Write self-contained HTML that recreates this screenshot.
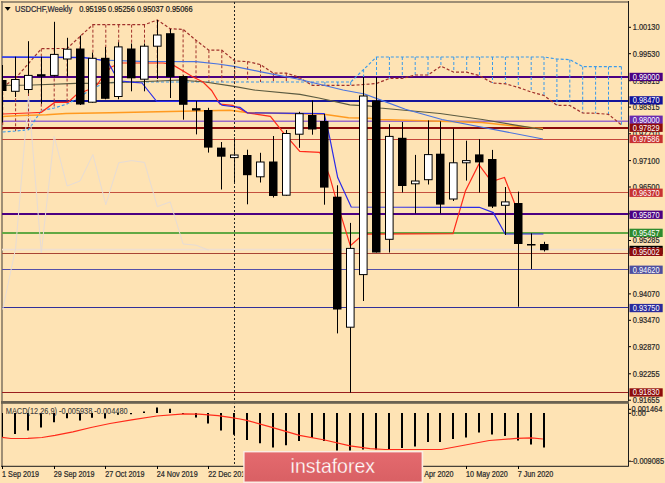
<!DOCTYPE html><html><head><meta charset="utf-8"><style>
html,body{margin:0;padding:0;width:665px;height:483px;overflow:hidden;background:#FEE3B4;}
svg{display:block;position:absolute;left:0;top:0;}
text{font-family:"Liberation Sans",sans-serif;}
</style></head><body>
<svg width="665" height="483" viewBox="0 0 665 483">
<rect x="0" y="0" width="665" height="483" fill="#FEE3B4"/>
<defs><clipPath id="cm"><rect x="2" y="2" width="626" height="399"/></clipPath>
<clipPath id="cd"><rect x="2" y="404" width="626" height="62"/></clipPath></defs>
<line x1="2" y1="1" x2="2" y2="466" stroke="#7E7260" stroke-width="1.5"/>
<line x1="1" y1="2" x2="628.5" y2="2" stroke="#7E7260" stroke-width="1.6"/>
<g clip-path="url(#cm)">
<line x1="2" y1="77.0" x2="628" y2="77.0" stroke="#4B0082" stroke-width="2"/>
<line x1="2" y1="101.0" x2="628" y2="101.0" stroke="#14149A" stroke-width="2"/>
<line x1="2" y1="121.3" x2="628" y2="121.3" stroke="#9A6AC8" stroke-width="1.5"/>
<line x1="2" y1="128.0" x2="628" y2="128.0" stroke="#8B0A0A" stroke-width="2"/>
<line x1="2" y1="139.5" x2="628" y2="139.5" stroke="#C4463A" stroke-width="1"/>
<line x1="2" y1="192.5" x2="628" y2="192.5" stroke="#C4503E" stroke-width="1"/>
<line x1="2" y1="214.0" x2="628" y2="214.0" stroke="#4B0082" stroke-width="2"/>
<line x1="2" y1="233.0" x2="628" y2="233.0" stroke="#62A844" stroke-width="2"/>
<line x1="2" y1="249.6" x2="628" y2="249.6" stroke="#F0DFD0" stroke-width="1.6"/>
<line x1="2" y1="253.5" x2="628" y2="253.5" stroke="#A84434" stroke-width="1"/>
<line x1="2" y1="269.5" x2="628" y2="269.5" stroke="#5550A8" stroke-width="1"/>
<line x1="2" y1="307.5" x2="628" y2="307.5" stroke="#30309A" stroke-width="1"/>
<line x1="2" y1="392.5" x2="628" y2="392.5" stroke="#9A1E1E" stroke-width="1"/>
<line x1="2.7" y1="87.0" x2="2.7" y2="132.0" stroke="#A0302A" stroke-width="1" stroke-dasharray="3,2"/>
<line x1="15.6" y1="78.3" x2="15.6" y2="131.0" stroke="#A0302A" stroke-width="1" stroke-dasharray="3,2"/>
<line x1="28.5" y1="63.5" x2="28.5" y2="129.7" stroke="#A0302A" stroke-width="1" stroke-dasharray="3,2"/>
<line x1="41.3" y1="48.7" x2="41.3" y2="110.6" stroke="#A0302A" stroke-width="1" stroke-dasharray="3,2"/>
<line x1="54.2" y1="48.5" x2="54.2" y2="108.0" stroke="#A0302A" stroke-width="1" stroke-dasharray="3,2"/>
<line x1="67.1" y1="48.5" x2="67.1" y2="104.0" stroke="#A0302A" stroke-width="1" stroke-dasharray="3,2"/>
<line x1="80.0" y1="36.5" x2="80.0" y2="97.0" stroke="#A0302A" stroke-width="1" stroke-dasharray="3,2"/>
<line x1="92.9" y1="24.7" x2="92.9" y2="88.0" stroke="#A0302A" stroke-width="1" stroke-dasharray="3,2"/>
<line x1="105.8" y1="24.7" x2="105.8" y2="83.0" stroke="#A0302A" stroke-width="1" stroke-dasharray="3,2"/>
<line x1="118.7" y1="24.7" x2="118.7" y2="82.0" stroke="#A0302A" stroke-width="1" stroke-dasharray="3,2"/>
<line x1="131.6" y1="24.7" x2="131.6" y2="82.0" stroke="#A0302A" stroke-width="1" stroke-dasharray="3,2"/>
<line x1="144.5" y1="24.7" x2="144.5" y2="82.0" stroke="#A0302A" stroke-width="1" stroke-dasharray="3,2"/>
<line x1="157.3" y1="20.0" x2="157.3" y2="82.0" stroke="#A0302A" stroke-width="1" stroke-dasharray="3,2"/>
<line x1="170.2" y1="28.7" x2="170.2" y2="82.0" stroke="#A0302A" stroke-width="1" stroke-dasharray="3,2"/>
<line x1="183.1" y1="29.4" x2="183.1" y2="82.0" stroke="#A0302A" stroke-width="1" stroke-dasharray="3,2"/>
<line x1="196.0" y1="40.3" x2="196.0" y2="82.0" stroke="#A0302A" stroke-width="1" stroke-dasharray="3,2"/>
<line x1="208.9" y1="50.2" x2="208.9" y2="82.0" stroke="#A0302A" stroke-width="1" stroke-dasharray="3,2"/>
<line x1="221.8" y1="50.2" x2="221.8" y2="82.0" stroke="#A0302A" stroke-width="1" stroke-dasharray="3,2"/>
<line x1="234.7" y1="61.0" x2="234.7" y2="82.0" stroke="#A0302A" stroke-width="1" stroke-dasharray="3,2"/>
<line x1="247.6" y1="61.6" x2="247.6" y2="82.0" stroke="#A0302A" stroke-width="1" stroke-dasharray="3,2"/>
<line x1="260.5" y1="64.6" x2="260.5" y2="82.0" stroke="#A0302A" stroke-width="1" stroke-dasharray="3,2"/>
<line x1="273.4" y1="73.1" x2="273.4" y2="82.0" stroke="#A0302A" stroke-width="1" stroke-dasharray="3,2"/>
<line x1="286.3" y1="73.1" x2="286.3" y2="82.0" stroke="#A0302A" stroke-width="1" stroke-dasharray="3,2"/>
<line x1="299.1" y1="77.3" x2="299.1" y2="82.0" stroke="#A0302A" stroke-width="1" stroke-dasharray="3,2"/>
<line x1="312.0" y1="82.0" x2="312.0" y2="85.4" stroke="#3A9AEA" stroke-width="1" stroke-dasharray="3,2"/>
<line x1="324.9" y1="82.0" x2="324.9" y2="85.4" stroke="#3A9AEA" stroke-width="1" stroke-dasharray="3,2"/>
<line x1="337.8" y1="82.0" x2="337.8" y2="85.4" stroke="#3A9AEA" stroke-width="1" stroke-dasharray="3,2"/>
<line x1="350.7" y1="82.0" x2="350.7" y2="85.4" stroke="#3A9AEA" stroke-width="1" stroke-dasharray="3,2"/>
<line x1="363.6" y1="69.5" x2="363.6" y2="84.5" stroke="#3A9AEA" stroke-width="1" stroke-dasharray="3,2"/>
<line x1="376.5" y1="57.0" x2="376.5" y2="83.5" stroke="#3A9AEA" stroke-width="1" stroke-dasharray="3,2"/>
<line x1="389.4" y1="57.0" x2="389.4" y2="78.4" stroke="#3A9AEA" stroke-width="1" stroke-dasharray="3,2"/>
<line x1="402.3" y1="57.0" x2="402.3" y2="78.4" stroke="#3A9AEA" stroke-width="1" stroke-dasharray="3,2"/>
<line x1="415.2" y1="57.0" x2="415.2" y2="75.0" stroke="#3A9AEA" stroke-width="1" stroke-dasharray="3,2"/>
<line x1="428.0" y1="57.0" x2="428.0" y2="75.0" stroke="#3A9AEA" stroke-width="1" stroke-dasharray="3,2"/>
<line x1="440.9" y1="57.0" x2="440.9" y2="66.2" stroke="#3A9AEA" stroke-width="1" stroke-dasharray="3,2"/>
<line x1="453.8" y1="57.0" x2="453.8" y2="72.2" stroke="#3A9AEA" stroke-width="1" stroke-dasharray="3,2"/>
<line x1="466.7" y1="57.0" x2="466.7" y2="72.2" stroke="#3A9AEA" stroke-width="1" stroke-dasharray="3,2"/>
<line x1="479.6" y1="57.0" x2="479.6" y2="75.7" stroke="#3A9AEA" stroke-width="1" stroke-dasharray="3,2"/>
<line x1="492.5" y1="57.0" x2="492.5" y2="83.0" stroke="#3A9AEA" stroke-width="1" stroke-dasharray="3,2"/>
<line x1="505.4" y1="57.0" x2="505.4" y2="83.8" stroke="#3A9AEA" stroke-width="1" stroke-dasharray="3,2"/>
<line x1="518.3" y1="57.0" x2="518.3" y2="87.4" stroke="#3A9AEA" stroke-width="1" stroke-dasharray="3,2"/>
<line x1="531.2" y1="57.0" x2="531.2" y2="92.0" stroke="#3A9AEA" stroke-width="1" stroke-dasharray="3,2"/>
<line x1="544.0" y1="57.0" x2="544.0" y2="95.5" stroke="#3A9AEA" stroke-width="1" stroke-dasharray="3,2"/>
<line x1="556.9" y1="59.0" x2="556.9" y2="105.3" stroke="#3A9AEA" stroke-width="1" stroke-dasharray="3,2"/>
<line x1="569.8" y1="59.6" x2="569.8" y2="105.5" stroke="#3A9AEA" stroke-width="1" stroke-dasharray="3,2"/>
<line x1="582.7" y1="66.7" x2="582.7" y2="113.0" stroke="#3A9AEA" stroke-width="1" stroke-dasharray="3,2"/>
<line x1="595.6" y1="66.7" x2="595.6" y2="113.3" stroke="#3A9AEA" stroke-width="1" stroke-dasharray="3,2"/>
<line x1="608.5" y1="66.7" x2="608.5" y2="114.3" stroke="#3A9AEA" stroke-width="1" stroke-dasharray="3,2"/>
<line x1="621.4" y1="66.7" x2="621.4" y2="125.0" stroke="#3A9AEA" stroke-width="1" stroke-dasharray="3,2"/>
<polyline points="2.7,132.0 15.6,131.0 28.5,129.7 41.3,110.6 54.2,108.0 67.1,104.0 80.0,97.0 92.9,88.0 105.8,83.0 118.7,82.0 131.6,82.0 144.5,82.0 157.3,82.0 170.2,82.0 183.1,82.0 196.0,82.0 208.9,82.0 221.8,82.0 234.7,82.0 247.6,82.0 260.5,82.0 273.4,82.0 286.3,82.0 299.1,82.0 312.0,82.0 324.9,82.0 337.8,82.0 350.7,82.0 363.6,69.5 376.5,57.0 389.4,57.0 402.3,57.0 415.2,57.0 428.0,57.0 440.9,57.0 453.8,57.0 466.7,57.0 479.6,57.0 492.5,57.0 505.4,57.0 518.3,57.0 531.2,57.0 544.0,57.0 556.9,59.0 569.8,59.6 582.7,66.7 595.6,66.7 608.5,66.7 621.4,66.7" fill="none" stroke="#3A9AEA" stroke-width="1.2" stroke-dasharray="3,2"/>
<polyline points="2.7,87.0 15.6,78.3 28.5,63.5 41.3,48.7 54.2,48.5 67.1,48.5 80.0,36.5 92.9,24.7 105.8,24.7 118.7,24.7 131.6,24.7 144.5,24.7 157.3,20.0 170.2,28.7 183.1,29.4 196.0,40.3 208.9,50.2 221.8,50.2 234.7,61.0 247.6,61.6 260.5,64.6 273.4,73.1 286.3,73.1 299.1,77.3 312.0,85.4 324.9,85.4 337.8,85.4 350.7,85.4 363.6,84.5 376.5,83.5 389.4,78.4 402.3,78.4 415.2,75.0 428.0,75.0 440.9,66.2 453.8,72.2 466.7,72.2 479.6,75.7 492.5,83.0 505.4,83.8 518.3,87.4 531.2,92.0 544.0,95.5 556.9,105.3 569.8,105.5 582.7,113.0 595.6,113.3 608.5,114.3 621.4,125.0" fill="none" stroke="#A0302A" stroke-width="1.2" stroke-dasharray="3,2"/>
<polyline points="2.7,309.5 15.6,248.4 28.5,96.0 41.3,252.5 54.2,136.4 67.1,186.0 80.0,181.0 92.9,154.6 105.8,204.6 118.7,162.8 131.6,160.6 144.5,162.4 157.3,206.6 170.2,201.9 183.1,244.0 196.0,245.2 208.9,250.2" fill="none" stroke="#E6DCD6" stroke-width="1"/>
<polyline points="2.0,116.4 21.5,115.6 46.4,114.8 66.0,113.4 110.0,112.8 230.0,110.2 246.5,112.6 324.0,114.2 348.5,117.7 370.0,118.3 380.0,119.5 482.0,122.6 535.0,127.9 543.0,128.5" fill="none" stroke="#FF9A20" stroke-width="1.5"/>
<polyline points="2.0,85.4 33.0,85.0 76.0,83.3 100.0,83.2 159.0,81.0 180.0,80.0 205.0,82.0 234.0,86.3 254.0,90.0 300.0,94.4 318.8,98.0 349.8,104.8 370.0,106.2 380.0,108.0 440.0,113.5 482.4,119.5 543.0,129.7" fill="none" stroke="#5A5A40" stroke-width="1.2"/>
<polyline points="2.0,56.8 84.0,57.4 100.7,60.0 140.0,61.3 196.0,61.6 218.0,64.0 234.0,66.4 261.0,71.9 300.0,79.5 343.0,90.0 364.6,94.0 383.0,100.9 405.4,109.3 442.0,119.5 543.0,139.0" fill="none" stroke="#4A74E0" stroke-width="1.2"/>
<polyline points="2.5,114.0 28.0,113.0 41.3,112.3 54.6,102.4 68.0,102.4 76.0,95.0 87.7,90.0 97.6,84.3 101.7,78.0 111.0,67.2 114.0,65.7 118.0,63.0 163.0,63.0 171.6,64.2 184.0,71.6 192.6,76.8 203.0,82.0 211.6,90.5 220.0,104.2 232.6,105.3 247.5,112.9 270.4,116.4 282.5,131.7 299.8,151.3 319.7,152.3 329.6,176.2 336.4,200.4 350.3,245.7 359.4,237.7 365.0,234.2 453.0,233.6 465.4,191.0 478.7,164.5 491.5,181.5 504.5,177.5 514.5,203.0 518.0,212.0" fill="none" stroke="#FF2A1A" stroke-width="1.2"/>
<polyline points="2.0,57.2 84.0,57.6 100.7,60.0 108.0,62.0 114.0,73.0 121.0,81.0 134.5,82.3 142.0,83.0 156.8,101.5 218.0,101.5 222.0,105.3 240.0,107.4 247.5,112.9 324.2,113.7 329.6,137.1 337.7,177.5 351.2,207.0 479.3,207.3 493.3,212.6 505.2,234.0 543.4,234.0" fill="none" stroke="#2A2AE8" stroke-width="1.2"/>
<line x1="2.5" y1="65.0" x2="2.5" y2="122.5" stroke="#000" stroke-width="1"/>
<rect x="-2" y="80.0" width="8.5" height="11.0" fill="#000"/>
<line x1="15.5" y1="56.7" x2="15.5" y2="97.0" stroke="#000" stroke-width="1"/>
<rect x="11.5" y="79.5" width="7.6" height="11.8" fill="#fff" stroke="#000" stroke-width="1"/>
<line x1="28.5" y1="41.2" x2="28.5" y2="93.6" stroke="#000" stroke-width="1"/>
<rect x="24.5" y="75.4" width="7.6" height="14.1" fill="#fff" stroke="#000" stroke-width="1"/>
<line x1="41.5" y1="56.7" x2="41.5" y2="103.8" stroke="#000" stroke-width="1"/>
<rect x="37" y="74.2" width="8.5" height="2.3" fill="#000"/>
<line x1="54.5" y1="21.8" x2="54.5" y2="76.5" stroke="#000" stroke-width="1"/>
<rect x="50.5" y="54.4" width="7.6" height="21.0" fill="#fff" stroke="#000" stroke-width="1"/>
<line x1="67.5" y1="37.8" x2="67.5" y2="76.5" stroke="#000" stroke-width="1"/>
<rect x="63.5" y="49.2" width="7.6" height="9.8" fill="#fff" stroke="#000" stroke-width="1"/>
<line x1="80.5" y1="35.5" x2="80.5" y2="105.0" stroke="#000" stroke-width="1"/>
<rect x="76" y="48.5" width="8.5" height="56.0" fill="#000"/>
<line x1="92.5" y1="52.6" x2="92.5" y2="102.7" stroke="#000" stroke-width="1"/>
<rect x="88.5" y="58.3" width="7.6" height="43.9" fill="#fff" stroke="#000" stroke-width="1"/>
<line x1="105.5" y1="46.9" x2="105.5" y2="99.3" stroke="#000" stroke-width="1"/>
<rect x="101" y="57.8" width="8.5" height="41.0" fill="#000"/>
<line x1="118.5" y1="42.3" x2="118.5" y2="99.3" stroke="#000" stroke-width="1"/>
<rect x="114.5" y="46.9" width="7.6" height="49.6" fill="#fff" stroke="#000" stroke-width="1"/>
<line x1="131.5" y1="43.5" x2="131.5" y2="91.3" stroke="#000" stroke-width="1"/>
<rect x="127" y="48.5" width="8.5" height="29.8" fill="#000"/>
<line x1="144.5" y1="43.5" x2="144.5" y2="91.3" stroke="#000" stroke-width="1"/>
<rect x="140.5" y="46.2" width="7.6" height="33.0" fill="#fff" stroke="#000" stroke-width="1"/>
<line x1="157.5" y1="20.0" x2="157.5" y2="79.0" stroke="#000" stroke-width="1"/>
<rect x="153.5" y="35.0" width="7.6" height="11.2" fill="#fff" stroke="#000" stroke-width="1"/>
<line x1="170.5" y1="29.0" x2="170.5" y2="98.0" stroke="#000" stroke-width="1"/>
<rect x="166" y="33.2" width="8.5" height="43.8" fill="#000"/>
<line x1="183.5" y1="75.4" x2="183.5" y2="119.7" stroke="#000" stroke-width="1"/>
<rect x="179" y="76.0" width="8.5" height="28.8" fill="#000"/>
<line x1="196.5" y1="101.0" x2="196.5" y2="134.4" stroke="#000" stroke-width="1"/>
<rect x="192" y="108.2" width="8.5" height="2.3" fill="#000"/>
<line x1="208.5" y1="107.8" x2="208.5" y2="152.6" stroke="#000" stroke-width="1"/>
<rect x="204" y="110.0" width="8.5" height="37.6" fill="#000"/>
<line x1="221.5" y1="142.0" x2="221.5" y2="189.5" stroke="#000" stroke-width="1"/>
<rect x="217" y="147.6" width="8.5" height="9.1" fill="#000"/>
<line x1="234.5" y1="137.4" x2="234.5" y2="182.0" stroke="#000" stroke-width="1"/>
<rect x="230.5" y="155.0" width="7.6" height="2.6" fill="#fff" stroke="#000" stroke-width="1"/>
<line x1="247.5" y1="149.7" x2="247.5" y2="204.3" stroke="#000" stroke-width="1"/>
<rect x="243" y="155.0" width="8.5" height="20.2" fill="#000"/>
<line x1="260.5" y1="152.8" x2="260.5" y2="182.5" stroke="#000" stroke-width="1"/>
<rect x="256.5" y="162.0" width="7.6" height="14.8" fill="#fff" stroke="#000" stroke-width="1"/>
<line x1="273.5" y1="136.0" x2="273.5" y2="197.5" stroke="#000" stroke-width="1"/>
<rect x="269" y="161.5" width="8.5" height="34.5" fill="#000"/>
<line x1="286.5" y1="130.0" x2="286.5" y2="195.7" stroke="#000" stroke-width="1"/>
<rect x="282.5" y="133.5" width="7.6" height="61.7" fill="#fff" stroke="#000" stroke-width="1"/>
<line x1="299.5" y1="111.8" x2="299.5" y2="147.8" stroke="#000" stroke-width="1"/>
<rect x="295.5" y="113.7" width="7.6" height="20.5" fill="#fff" stroke="#000" stroke-width="1"/>
<line x1="312.5" y1="100.5" x2="312.5" y2="134.7" stroke="#000" stroke-width="1"/>
<rect x="308" y="115.0" width="8.5" height="14.5" fill="#000"/>
<line x1="324.5" y1="114.0" x2="324.5" y2="204.7" stroke="#000" stroke-width="1"/>
<rect x="320" y="121.0" width="8.5" height="66.6" fill="#000"/>
<line x1="337.5" y1="185.3" x2="337.5" y2="333.4" stroke="#000" stroke-width="1"/>
<rect x="333" y="196.7" width="8.5" height="112.8" fill="#000"/>
<line x1="350.5" y1="222.9" x2="350.5" y2="392.6" stroke="#000" stroke-width="1"/>
<rect x="346.5" y="248.4" width="7.6" height="78.8" fill="#fff" stroke="#000" stroke-width="1"/>
<line x1="363.5" y1="77.0" x2="363.5" y2="301.0" stroke="#000" stroke-width="1"/>
<rect x="359.5" y="96.0" width="7.6" height="178.6" fill="#fff" stroke="#000" stroke-width="1"/>
<line x1="376.5" y1="77.0" x2="376.5" y2="252.5" stroke="#000" stroke-width="1"/>
<rect x="372" y="100.5" width="8.5" height="152.0" fill="#000"/>
<line x1="389.5" y1="124.2" x2="389.5" y2="252.5" stroke="#000" stroke-width="1"/>
<rect x="385.5" y="136.4" width="7.6" height="102.9" fill="#fff" stroke="#000" stroke-width="1"/>
<line x1="402.5" y1="122.0" x2="402.5" y2="192.4" stroke="#000" stroke-width="1"/>
<rect x="398" y="137.8" width="8.5" height="48.2" fill="#000"/>
<line x1="415.5" y1="154.9" x2="415.5" y2="213.4" stroke="#000" stroke-width="1"/>
<rect x="411.5" y="181.0" width="7.6" height="2.8" fill="#fff" stroke="#000" stroke-width="1"/>
<line x1="428.5" y1="120.4" x2="428.5" y2="184.5" stroke="#000" stroke-width="1"/>
<rect x="424.5" y="154.6" width="7.6" height="25.1" fill="#fff" stroke="#000" stroke-width="1"/>
<line x1="440.5" y1="121.4" x2="440.5" y2="213.4" stroke="#000" stroke-width="1"/>
<rect x="436" y="153.7" width="8.5" height="50.9" fill="#000"/>
<line x1="453.5" y1="128.7" x2="453.5" y2="201.0" stroke="#000" stroke-width="1"/>
<rect x="449.5" y="162.8" width="7.6" height="36.2" fill="#fff" stroke="#000" stroke-width="1"/>
<line x1="466.5" y1="140.7" x2="466.5" y2="180.6" stroke="#000" stroke-width="1"/>
<rect x="462.5" y="160.6" width="7.6" height="2.2" fill="#fff" stroke="#000" stroke-width="1"/>
<line x1="479.5" y1="139.2" x2="479.5" y2="192.5" stroke="#000" stroke-width="1"/>
<rect x="475" y="154.4" width="8.5" height="8.0" fill="#000"/>
<line x1="492.5" y1="149.9" x2="492.5" y2="208.0" stroke="#000" stroke-width="1"/>
<rect x="488" y="159.0" width="8.5" height="47.6" fill="#000"/>
<line x1="505.5" y1="187.0" x2="505.5" y2="235.0" stroke="#000" stroke-width="1"/>
<rect x="501.5" y="201.9" width="7.6" height="3.4" fill="#fff" stroke="#000" stroke-width="1"/>
<line x1="518.5" y1="191.6" x2="518.5" y2="306.7" stroke="#000" stroke-width="1"/>
<rect x="514" y="203.0" width="8.5" height="41.0" fill="#000"/>
<line x1="531.5" y1="233.3" x2="531.5" y2="269.0" stroke="#000" stroke-width="1"/>
<rect x="527" y="244.0" width="8.5" height="1.5" fill="#000"/>
<line x1="544.5" y1="241.8" x2="544.5" y2="251.5" stroke="#000" stroke-width="1"/>
<rect x="540" y="244.0" width="8.5" height="6.2" fill="#000"/>
</g>
<line x1="234.5" y1="2" x2="234.5" y2="466" stroke="#222" stroke-width="1" stroke-dasharray="2,2"/>
<g clip-path="url(#cd)">
<line x1="2.0" y1="413.0" x2="2.0" y2="437.0" stroke="#000" stroke-width="2"/>
<line x1="15.0" y1="413.0" x2="15.0" y2="434.0" stroke="#000" stroke-width="2"/>
<line x1="28.0" y1="413.0" x2="28.0" y2="430.5" stroke="#000" stroke-width="2"/>
<line x1="41.0" y1="413.0" x2="41.0" y2="427.4" stroke="#000" stroke-width="2"/>
<line x1="54.0" y1="413.0" x2="54.0" y2="422.3" stroke="#000" stroke-width="2"/>
<line x1="67.0" y1="413.0" x2="67.0" y2="418.3" stroke="#000" stroke-width="2"/>
<line x1="80.0" y1="413.0" x2="80.0" y2="420.5" stroke="#000" stroke-width="2"/>
<line x1="92.0" y1="413.0" x2="92.0" y2="417.8" stroke="#000" stroke-width="2"/>
<line x1="105.0" y1="413.0" x2="105.0" y2="418.5" stroke="#000" stroke-width="2"/>
<line x1="118.0" y1="413.0" x2="118.0" y2="414.7" stroke="#000" stroke-width="2"/>
<line x1="131.0" y1="413.0" x2="131.0" y2="414.3" stroke="#000" stroke-width="2"/>
<line x1="144.0" y1="413.0" x2="144.0" y2="411.6" stroke="#000" stroke-width="2"/>
<line x1="157.0" y1="413.0" x2="157.0" y2="407.4" stroke="#000" stroke-width="2"/>
<line x1="170.0" y1="413.0" x2="170.0" y2="408.8" stroke="#000" stroke-width="2"/>
<line x1="183.0" y1="413.0" x2="183.0" y2="414.0" stroke="#000" stroke-width="2"/>
<line x1="196.0" y1="413.0" x2="196.0" y2="417.5" stroke="#000" stroke-width="2"/>
<line x1="208.0" y1="413.0" x2="208.0" y2="423.6" stroke="#000" stroke-width="2"/>
<line x1="221.0" y1="413.0" x2="221.0" y2="430.5" stroke="#000" stroke-width="2"/>
<line x1="234.0" y1="413.0" x2="234.0" y2="434.7" stroke="#000" stroke-width="2"/>
<line x1="247.0" y1="413.0" x2="247.0" y2="440.0" stroke="#000" stroke-width="2"/>
<line x1="260.0" y1="413.0" x2="260.0" y2="443.2" stroke="#000" stroke-width="2"/>
<line x1="273.0" y1="413.0" x2="273.0" y2="447.4" stroke="#000" stroke-width="2"/>
<line x1="286.0" y1="413.0" x2="286.0" y2="445.3" stroke="#000" stroke-width="2"/>
<line x1="299.0" y1="413.0" x2="299.0" y2="441.0" stroke="#000" stroke-width="2"/>
<line x1="312.0" y1="413.0" x2="312.0" y2="437.9" stroke="#000" stroke-width="2"/>
<line x1="324.0" y1="413.0" x2="324.0" y2="441.0" stroke="#000" stroke-width="2"/>
<line x1="337.0" y1="413.0" x2="337.0" y2="450.5" stroke="#000" stroke-width="2"/>
<line x1="350.0" y1="413.0" x2="350.0" y2="450.5" stroke="#000" stroke-width="2"/>
<line x1="363.0" y1="413.0" x2="363.0" y2="449.6" stroke="#000" stroke-width="2"/>
<line x1="376.0" y1="413.0" x2="376.0" y2="449.6" stroke="#000" stroke-width="2"/>
<line x1="389.0" y1="413.0" x2="389.0" y2="449.6" stroke="#000" stroke-width="2"/>
<line x1="402.0" y1="413.0" x2="402.0" y2="448.0" stroke="#000" stroke-width="2"/>
<line x1="415.0" y1="413.0" x2="415.0" y2="446.6" stroke="#000" stroke-width="2"/>
<line x1="428.0" y1="413.0" x2="428.0" y2="442.0" stroke="#000" stroke-width="2"/>
<line x1="440.0" y1="413.0" x2="440.0" y2="442.0" stroke="#000" stroke-width="2"/>
<line x1="453.0" y1="413.0" x2="453.0" y2="439.1" stroke="#000" stroke-width="2"/>
<line x1="466.0" y1="413.0" x2="466.0" y2="437.6" stroke="#000" stroke-width="2"/>
<line x1="479.0" y1="413.0" x2="479.0" y2="432.5" stroke="#000" stroke-width="2"/>
<line x1="492.0" y1="413.0" x2="492.0" y2="434.6" stroke="#000" stroke-width="2"/>
<line x1="505.0" y1="413.0" x2="505.0" y2="436.1" stroke="#000" stroke-width="2"/>
<line x1="518.0" y1="413.0" x2="518.0" y2="440.6" stroke="#000" stroke-width="2"/>
<line x1="531.0" y1="413.0" x2="531.0" y2="444.5" stroke="#000" stroke-width="2"/>
<line x1="544.0" y1="413.0" x2="544.0" y2="447.5" stroke="#000" stroke-width="2"/>
<polyline points="1.8,437.3 11.0,438.5 28.0,438.4 42.0,437.5 55.0,435.3 72.9,431.8 91.0,427.5 110.0,423.5 131.6,419.8 156.8,416.0 184.2,413.9 199.0,414.2 218.0,415.6 230.0,417.3 240.0,419.0 246.8,420.3 272.0,427.4 299.5,435.3 324.7,440.0 350.0,445.8 370.0,448.6 385.0,449.5 441.2,449.5 465.3,445.0 489.3,440.5 516.4,438.4 531.4,437.9 542.9,439.0" fill="none" stroke="#FF2A1A" stroke-width="1.2"/>
</g>
<text transform="translate(5.80,414.00) scale(0.900,1)" font-size="8.20" fill="#3c3c3c" stroke="#3c3c3c" stroke-width="0.08">MACD(12,26,9) -0.005938 -0.004480</text>
<line x1="628.5" y1="1" x2="628.5" y2="466.5" stroke="#1a1a1a" stroke-width="1"/>
<rect x="1" y="401" width="628" height="2.8" fill="#6A6252"/>
<line x1="1" y1="466.3" x2="628.5" y2="466.3" stroke="#1a1a1a" stroke-width="1"/>
<path d="M4.7,7 L10.7,7 L7.7,10.7 Z" fill="#000"/>
<text transform="translate(15.00,11.60) scale(0.920,1)" font-size="8.20" fill="#2a2a3a" stroke="#2a2a3a" stroke-width="0.22">USDCHF,Weekly</text>
<text transform="translate(79.20,11.60) scale(0.905,1)" font-size="8.20" fill="#1a1a1a" stroke="#1a1a1a" stroke-width="0.22">0.95195 0.95256 0.95037 0.95066</text>
<line x1="629" y1="27.3" x2="631" y2="27.3" stroke="#000" stroke-width="1"/>
<text transform="translate(632.80,30.28) scale(0.905,1)" font-size="8.20" fill="#2a2a2a" stroke="#2a2a2a" stroke-width="0.22">1.00130</text>
<line x1="629" y1="53.7" x2="631" y2="53.7" stroke="#000" stroke-width="1"/>
<text transform="translate(632.80,56.68) scale(0.905,1)" font-size="8.20" fill="#2a2a2a" stroke="#2a2a2a" stroke-width="0.22">0.99530</text>
<line x1="629" y1="80.7" x2="631" y2="80.7" stroke="#000" stroke-width="1"/>
<text transform="translate(632.80,83.74) scale(0.905,1)" font-size="8.20" fill="#2a2a2a" stroke="#2a2a2a" stroke-width="0.22">0.98915</text>
<line x1="629" y1="107.1" x2="631" y2="107.1" stroke="#000" stroke-width="1"/>
<text transform="translate(632.80,110.14) scale(0.905,1)" font-size="8.20" fill="#2a2a2a" stroke="#2a2a2a" stroke-width="0.22">0.98315</text>
<line x1="629" y1="133.8" x2="631" y2="133.8" stroke="#000" stroke-width="1"/>
<text transform="translate(632.80,136.76) scale(0.905,1)" font-size="8.20" fill="#2a2a2a" stroke="#2a2a2a" stroke-width="0.22">0.97710</text>
<line x1="629" y1="160.6" x2="631" y2="160.6" stroke="#000" stroke-width="1"/>
<text transform="translate(632.80,163.60) scale(0.905,1)" font-size="8.20" fill="#2a2a2a" stroke="#2a2a2a" stroke-width="0.22">0.97100</text>
<line x1="629" y1="187.0" x2="631" y2="187.0" stroke="#000" stroke-width="1"/>
<text transform="translate(632.80,190.00) scale(0.905,1)" font-size="8.20" fill="#2a2a2a" stroke="#2a2a2a" stroke-width="0.22">0.96500</text>
<line x1="629" y1="213.8" x2="631" y2="213.8" stroke="#000" stroke-width="1"/>
<text transform="translate(632.80,216.84) scale(0.905,1)" font-size="8.20" fill="#2a2a2a" stroke="#2a2a2a" stroke-width="0.22">0.95890</text>
<line x1="629" y1="240.5" x2="631" y2="240.5" stroke="#000" stroke-width="1"/>
<text transform="translate(632.80,243.46) scale(0.905,1)" font-size="8.20" fill="#2a2a2a" stroke="#2a2a2a" stroke-width="0.22">0.95285</text>
<line x1="629" y1="293.9" x2="631" y2="293.9" stroke="#000" stroke-width="1"/>
<text transform="translate(632.80,296.92) scale(0.905,1)" font-size="8.20" fill="#2a2a2a" stroke="#2a2a2a" stroke-width="0.22">0.94070</text>
<line x1="629" y1="320.3" x2="631" y2="320.3" stroke="#000" stroke-width="1"/>
<text transform="translate(632.80,323.32) scale(0.905,1)" font-size="8.20" fill="#2a2a2a" stroke="#2a2a2a" stroke-width="0.22">0.93470</text>
<line x1="629" y1="346.7" x2="631" y2="346.7" stroke="#000" stroke-width="1"/>
<text transform="translate(632.80,349.72) scale(0.905,1)" font-size="8.20" fill="#2a2a2a" stroke="#2a2a2a" stroke-width="0.22">0.92870</text>
<line x1="629" y1="373.8" x2="631" y2="373.8" stroke="#000" stroke-width="1"/>
<text transform="translate(632.80,376.78) scale(0.905,1)" font-size="8.20" fill="#2a2a2a" stroke="#2a2a2a" stroke-width="0.22">0.92255</text>
<line x1="629" y1="400.2" x2="631" y2="400.2" stroke="#000" stroke-width="1"/>
<text transform="translate(632.80,403.18) scale(0.905,1)" font-size="8.20" fill="#2a2a2a" stroke="#2a2a2a" stroke-width="0.22">0.91655</text>
<rect x="629.5" y="245.8" width="33.2" height="8.3" fill="#000000"/>
<text transform="translate(632.80,253.00) scale(0.905,1)" font-size="8.20" fill="#fff" stroke="#fff" stroke-width="0.00">0.95066</text>
<rect x="629.5" y="72.8" width="33.2" height="8.3" fill="#4B0082"/>
<text transform="translate(632.80,80.00) scale(0.905,1)" font-size="8.20" fill="#fff" stroke="#fff" stroke-width="0.00">0.99000</text>
<rect x="629.5" y="96.2" width="33.2" height="8.3" fill="#12129A"/>
<text transform="translate(632.80,103.32) scale(0.905,1)" font-size="8.20" fill="#fff" stroke="#fff" stroke-width="0.00">0.98470</text>
<rect x="629.5" y="115.6" width="33.2" height="8.3" fill="#6A2AAE"/>
<text transform="translate(632.80,122.80) scale(0.905,1)" font-size="8.20" fill="#fff" stroke="#fff" stroke-width="0.00">0.98000</text>
<rect x="629.5" y="123.6" width="33.2" height="8.3" fill="#8E0C0C"/>
<text transform="translate(632.80,130.80) scale(0.905,1)" font-size="8.20" fill="#fff" stroke="#fff" stroke-width="0.00">0.97829</text>
<rect x="629.5" y="134.8" width="33.2" height="8.3" fill="#C83232"/>
<text transform="translate(632.80,141.90) scale(0.905,1)" font-size="8.20" fill="#fff" stroke="#fff" stroke-width="0.00">0.97586</text>
<rect x="629.5" y="188.6" width="33.2" height="8.3" fill="#C83232"/>
<text transform="translate(632.80,195.72) scale(0.905,1)" font-size="8.20" fill="#fff" stroke="#fff" stroke-width="0.00">0.96370</text>
<rect x="629.5" y="210.6" width="33.2" height="8.3" fill="#4B0082"/>
<text transform="translate(632.80,217.72) scale(0.905,1)" font-size="8.20" fill="#fff" stroke="#fff" stroke-width="0.00">0.95870</text>
<rect x="629.5" y="228.7" width="33.2" height="8.3" fill="#2E8B2E"/>
<text transform="translate(632.80,235.89) scale(0.905,1)" font-size="8.20" fill="#fff" stroke="#fff" stroke-width="0.00">0.95457</text>
<rect x="629.5" y="247.7" width="33.2" height="8.3" fill="#8E0C0C"/>
<text transform="translate(632.80,254.80) scale(0.905,1)" font-size="8.20" fill="#fff" stroke="#fff" stroke-width="0.00">0.95002</text>
<rect x="629.5" y="265.6" width="33.2" height="8.3" fill="#4E4E9E"/>
<text transform="translate(632.80,272.72) scale(0.905,1)" font-size="8.20" fill="#fff" stroke="#fff" stroke-width="0.00">0.94620</text>
<rect x="629.5" y="303.9" width="33.2" height="8.3" fill="#2A2A9A"/>
<text transform="translate(632.80,311.00) scale(0.905,1)" font-size="8.20" fill="#fff" stroke="#fff" stroke-width="0.00">0.93750</text>
<rect x="629.5" y="388.3" width="33.2" height="8.3" fill="#8E0C0C"/>
<text transform="translate(632.80,395.48) scale(0.905,1)" font-size="8.20" fill="#fff" stroke="#fff" stroke-width="0.00">0.91830</text>
<line x1="629" y1="409.3" x2="631" y2="409.3" stroke="#000" stroke-width="1"/>
<line x1="629" y1="413.3" x2="631" y2="413.3" stroke="#000" stroke-width="1"/>
<line x1="629" y1="461.2" x2="631" y2="461.2" stroke="#000" stroke-width="1"/>
<text transform="translate(631.50,411.80) scale(0.900,1)" font-size="8.20" fill="#2a2a2a" stroke="#2a2a2a" stroke-width="0.22">0.001464</text>
<text transform="translate(631.50,415.80) scale(0.900,1)" font-size="8.20" fill="#2a2a2a" stroke="#2a2a2a" stroke-width="0.22">0.00</text>
<text transform="translate(630.80,463.60) scale(0.900,1)" font-size="8.20" fill="#2a2a2a" stroke="#2a2a2a" stroke-width="0.22">-0.009085</text>
<line x1="2.5" y1="466" x2="2.5" y2="469" stroke="#000" stroke-width="1"/>
<text transform="translate(2.07,476.70) scale(0.880,1)" font-size="8.20" fill="#2a2a2a" stroke="#2a2a2a" stroke-width="0.22">1 Sep 2019</text>
<line x1="54.5" y1="466" x2="54.5" y2="469" stroke="#000" stroke-width="1"/>
<text transform="translate(53.63,476.70) scale(0.880,1)" font-size="8.20" fill="#2a2a2a" stroke="#2a2a2a" stroke-width="0.22">29 Sep 2019</text>
<line x1="105.5" y1="466" x2="105.5" y2="469" stroke="#000" stroke-width="1"/>
<text transform="translate(105.19,476.70) scale(0.880,1)" font-size="8.20" fill="#2a2a2a" stroke="#2a2a2a" stroke-width="0.22">27 Oct 2019</text>
<line x1="157.5" y1="466" x2="157.5" y2="469" stroke="#000" stroke-width="1"/>
<text transform="translate(156.75,476.70) scale(0.880,1)" font-size="8.20" fill="#2a2a2a" stroke="#2a2a2a" stroke-width="0.22">24 Nov 2019</text>
<line x1="208.5" y1="466" x2="208.5" y2="469" stroke="#000" stroke-width="1"/>
<text transform="translate(208.31,476.70) scale(0.880,1)" font-size="8.20" fill="#2a2a2a" stroke="#2a2a2a" stroke-width="0.22">22 Dec 2019</text>
<line x1="260.5" y1="466" x2="260.5" y2="469" stroke="#000" stroke-width="1"/>
<text transform="translate(259.87,476.70) scale(0.880,1)" font-size="8.20" fill="#2a2a2a" stroke="#2a2a2a" stroke-width="0.22">19 Jan 2020</text>
<line x1="312.5" y1="466" x2="312.5" y2="469" stroke="#000" stroke-width="1"/>
<text transform="translate(311.43,476.70) scale(0.880,1)" font-size="8.20" fill="#2a2a2a" stroke="#2a2a2a" stroke-width="0.22">16 Feb 2020</text>
<line x1="363.5" y1="466" x2="363.5" y2="469" stroke="#000" stroke-width="1"/>
<text transform="translate(362.99,476.70) scale(0.880,1)" font-size="8.20" fill="#2a2a2a" stroke="#2a2a2a" stroke-width="0.22">15 Mar 2020</text>
<line x1="415.5" y1="466" x2="415.5" y2="469" stroke="#000" stroke-width="1"/>
<text transform="translate(414.55,476.70) scale(0.880,1)" font-size="8.20" fill="#2a2a2a" stroke="#2a2a2a" stroke-width="0.22">12 Apr 2020</text>
<line x1="466.5" y1="466" x2="466.5" y2="469" stroke="#000" stroke-width="1"/>
<text transform="translate(466.11,476.70) scale(0.880,1)" font-size="8.20" fill="#2a2a2a" stroke="#2a2a2a" stroke-width="0.22">10 May 2020</text>
<line x1="518.5" y1="466" x2="518.5" y2="469" stroke="#000" stroke-width="1"/>
<text transform="translate(517.67,476.70) scale(0.880,1)" font-size="8.20" fill="#2a2a2a" stroke="#2a2a2a" stroke-width="0.22">7 Jun 2020</text>
<rect x="243.2" y="451" width="180" height="32" fill="#FBEDE4"/>
<defs><linearGradient id="bg" x1="0" y1="0" x2="0" y2="1"><stop offset="0" stop-color="#E46A6E"/><stop offset="1" stop-color="#D96064"/></linearGradient></defs>
<rect x="244.6" y="452.4" width="177" height="29.1" fill="url(#bg)"/>
<text transform="translate(290.6,473.1) scale(0.945,1)" font-size="20.6" fill="#fff" stroke="#DF6468" stroke-width="0.3" style="paint-order:normal">instaforex</text>
</svg></body></html>
